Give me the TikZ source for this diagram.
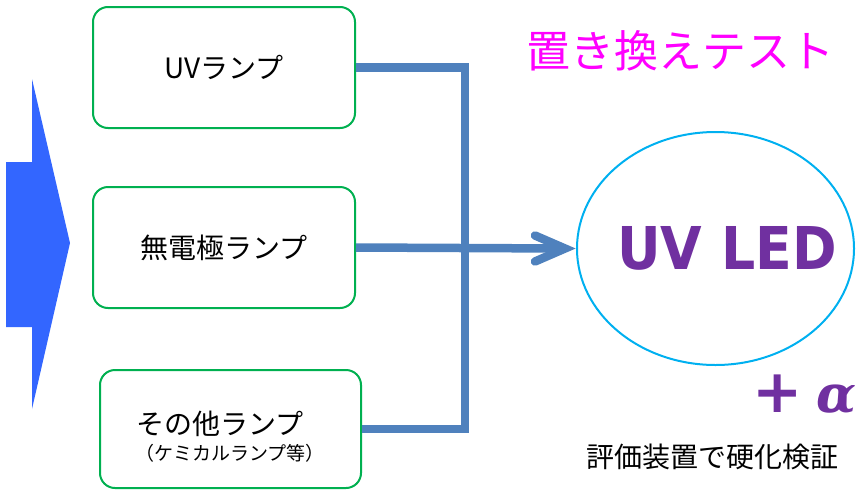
\documentclass[tikz,border=0pt]{standalone}
\usepackage{fontspec}
\usepackage{graphicx}
\newfontfamily\jp{Noto Sans CJK JP}
\newfontfamily\dvs{DejaVu Sans}
\newfontfamily\dvserif{DejaVu Serif}
\usetikzlibrary{shapes.geometric,calc}
\definecolor{bigblue}{HTML}{3366FF}
\definecolor{boxgreen}{HTML}{00B050}
\definecolor{connblue}{HTML}{4F81BD}
\definecolor{ledcyan}{HTML}{00B0F0}
\definecolor{ledpurple}{HTML}{7030A0}
\definecolor{titlemag}{HTML}{FF00FF}
\begin{document}
\begin{tikzpicture}[x=1pt,y=-1pt,
  lampbox/.style={draw=boxgreen, line width=2pt, rounded corners=15pt, fill=white,
    minimum width=262pt, minimum height=121pt, inner sep=0pt, align=center,
    font=\jp\fontsize{28}{34}\selectfont},
  conn/.style={draw=connblue, line width=8.5pt},
  ledshape/.style={draw=ledcyan, line width=2pt, ellipse, minimum width=277pt, minimum height=233pt, inner sep=0pt}
]
\useasboundingbox (0,0) rectangle (856,490);
% big input arrow
\fill[bigblue] (6,162) -- (32,162) -- (32,79) -- (70,243) -- (32,409) -- (32,327) -- (6,327) -- cycle;
% boxes
\node[lampbox] (b1) at (224,67.5) {UVランプ};
\node[lampbox] (b2) at (224,247.5) {無電極ランプ};
\node[lampbox, minimum width=261pt, minimum height=118pt] (b3) at (230.5,429) {};
\node[font=\jp\fontsize{28}{34}\selectfont] (t3) at (220,424) {その他ランプ};
\node[font=\jp\fontsize{19}{23}\selectfont] (t3s) at (230,453) {（ケミカルランプ等）};
% LED ellipse
\node[ledshape] (led) at (715.5,248.5) {};
\node[font=\dvs\bfseries\fontsize{59}{70}\selectfont, text=ledpurple] (ledt) at (727,248.5) {\scalebox{0.91}[1]{UV LED}};
% connectors
\coordinate (jx) at (465,248);
\coordinate (tip) at ($(led.west)+(-11,0)$);
\draw[conn] (b1.east) -| (jx) |- (b3.east);
\draw[conn] (b2.east) -- (tip);
\draw[conn, line cap=round, line join=miter] ($(tip)+(-30,-13)$) -- (tip) -- ($(tip)+(-30,13)$);
% texts
\node[font=\jp\fontsize{44}{52}\selectfont, text=titlemag, anchor=west] (title) at (523,51) {置き換えテスト};
\node[font=\dvs\bfseries\fontsize{60}{70}\selectfont, text=ledpurple] (plusmark) at (777.5,393.5) {+};
\node[font=\dvserif\bfseries\itshape\fontsize{52}{60}\selectfont, text=ledpurple, anchor=base] (alphamark) at (836,412) {α};
\node[font=\jp\fontsize{28}{34}\selectfont] (note) at (712,457) {評価装置で硬化検証};
\end{tikzpicture}
\end{document}
